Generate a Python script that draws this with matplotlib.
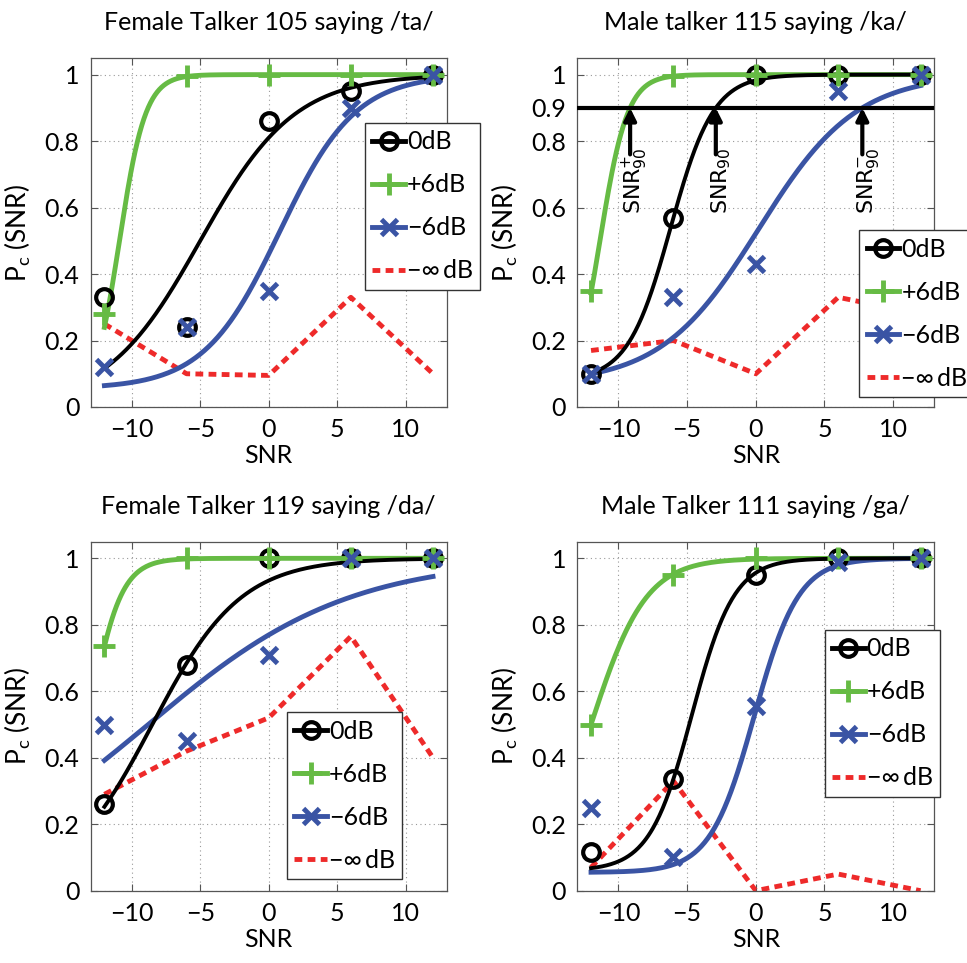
import matplotlib
matplotlib.use('Agg')

import matplotlib.pyplot as plt
import numpy as np
from matplotlib.lines import Line2D
from matplotlib.ticker import FuncFormatter

MAIN_FONT = 'Lato'
plt.rcParams['font.family'] = [MAIN_FONT, 'DejaVu Sans']
plt.rcParams['mathtext.fontset'] = 'custom'
plt.rcParams['mathtext.rm'] = MAIN_FONT
plt.rcParams['mathtext.sf'] = 'DejaVu Sans'
plt.rcParams['mathtext.default'] = 'sf'

# colours
BLACK = '#000000'
GREEN = '#66bb44'
BLUE = '#3a54a4'
RED = '#ee2a2a'

# data: SNR levels and measured Pc for each condition
snr = [-12, -6, 0, 6, 12]

ta_0db = [0.33, 0.24, 0.86, 0.95, 1.0]
ta_p6db = [0.28, 0.995, 1.0, 1.0, 1.0]
ta_m6db = [0.12, 0.24, 0.35, 0.90, 1.0]
ta_minf = [0.25, 0.10, 0.095, 0.33, 0.10]

ka_0db = [0.10, 0.57, 1.0, 1.0, 1.0]
ka_p6db = [0.35, 0.995, 1.0, 1.0, 1.0]
ka_m6db = [0.10, 0.33, 0.43, 0.95, 1.0]
ka_minf = [0.17, 0.20, 0.10, 0.33, 0.28]

da_0db = [0.26, 0.68, 1.0, 1.0, 1.0]
da_p6db = [0.735, 1.0, 1.0, 1.0, 1.0]
da_m6db = [0.50, 0.45, 0.71, 1.0, 1.0]
da_minf = [0.29, 0.42, 0.52, 0.765, 0.40]

ga_0db = [0.115, 0.337, 0.95, 1.0, 1.0]
ga_p6db = [0.50, 0.95, 1.0, 1.0, 1.0]
ga_m6db = [0.25, 0.10, 0.555, 0.99, 1.0]
ga_minf = [0.07, 0.33, 0.0, 0.05, 0.0]

# fitted psychometric curves: (floor, slope, midpoint)
ta_fit = [(0.0, 0.29, -5.0), (0.0, 1.05, -10.9), (0.055, 0.36, 0.8)]
ka_fit = [(0.08, 0.64, -6.2), (0.0, 1.0, -11.35), (0.07, 0.28, 0.2)]
da_fit = [(0.0, 0.31, -8.5), (0.0, 0.87, -13.17), (0.0, 0.137, -8.8)]
ga_fit = [(0.06, 0.65, -4.65), (0.0, 0.5, -12.0), (0.055, 0.62, -0.1)]

threshold = 0.9

titles = ['Female Talker 105 saying /ta/', 'Male talker 115 saying /ka/',
          'Female Talker 119 saying /da/', 'Male Talker 111 saying /ga/']
labels = ['0dB', '+6dB', '\u22126dB', '\u2212\u221e\u2009dB']

FS = 18


def psy(x, lo, k, x0):
    return lo + (1 - lo) / (1 + np.exp(-k * (x - x0)))


def psy_inv(p, lo, k, x0):
    return x0 - np.log((1 - lo) / (p - lo) - 1) / k


def draw_panel(ax, title, d0, dp, dm, dinf, fits, leg_pos, yticks):
    xs = np.linspace(snr[0], snr[-1], 300)
    ax.plot(snr, dinf, color=RED, lw=3.5, linestyle=(0, (1.6, 1.1)), zorder=2)
    ax.plot(xs, psy(xs, *fits[1]), color=GREEN, lw=3.5, zorder=3)
    ax.plot(xs, psy(xs, *fits[2]), color=BLUE, lw=3.5, zorder=3)
    ax.plot(xs, psy(xs, *fits[0]), color=BLACK, lw=2.8, zorder=4)
    ax.plot(snr, d0, 'o', ms=12, mfc='none', mec=BLACK, mew=3, zorder=5)
    ax.plot(snr, dp, '+', ms=16, mec=GREEN, mew=3.5, zorder=5)
    ax.plot(snr, dm, 'x', ms=11, mec=BLUE, mew=3.5, zorder=5)

    ax.set_xlim(-13, 13)
    ax.set_ylim(0, 1.05)
    ax.set_xticks([-10, -5, 0, 5, 10])
    ax.set_yticks(yticks)
    ax.yaxis.set_major_formatter(FuncFormatter(lambda v, _: f'{v:g}'))
    ax.grid(True, color='#999999', lw=0.8, linestyle=(0, (1, 3)))
    ax.tick_params(direction='in', length=5, width=0.8, color='#555555',
                   labelsize=FS, top=True, right=True, pad=8)
    for s in ax.spines.values():
        s.set_color('#555555')
        s.set_linewidth(0.9)
    ax.set_title(title, fontsize=FS, pad=20)
    ax.set_xlabel('SNR', fontsize=FS, labelpad=2)
    ax.set_ylabel(r'P$_{\mathrm{c}}$ (SNR)', fontsize=FS + 1, labelpad=8)

    handles = [
        Line2D([], [], color=BLACK, lw=3.5, marker='o', ms=12, mfc='none', mew=3),
        Line2D([], [], color=GREEN, lw=3.5, marker='+', ms=16, mew=3.5),
        Line2D([], [], color=BLUE, lw=3.5, marker='x', ms=11, mew=3.5),
        Line2D([], [], color=RED, lw=3.5, linestyle=(0, (1.6, 1.1))),
    ]
    leg = ax.legend(handles, labels, loc='upper left', bbox_to_anchor=leg_pos,
                    borderaxespad=0, fontsize=FS, handlelength=1.3,
                    handletextpad=0.08, labelspacing=0.8, borderpad=0.3,
                    fancybox=False, framealpha=1, edgecolor='#333333')
    leg.get_frame().set_linewidth(1.0)
    leg.set_zorder(10)


fig = plt.figure(figsize=(9.67, 9.63), dpi=100)
W, H = 967, 963


def add_ax(left, top, right, bottom):
    return fig.add_axes([left / W, 1 - bottom / H, (right - left) / W, (bottom - top) / H])


ax_ta = add_ax(90.7, 58, 446.7, 407)
ax_ka = add_ax(577.3, 58, 934.3, 407)
ax_da = add_ax(90.7, 541.7, 446.7, 890.7)
ax_ga = add_ax(577.3, 541.7, 934.3, 890.7)

yt = [0, 0.2, 0.4, 0.6, 0.8, 1]
draw_panel(ax_ta, titles[0], ta_0db, ta_p6db, ta_m6db, ta_minf, ta_fit, (0.77, 0.814), yt)
draw_panel(ax_ka, titles[1], ka_0db, ka_p6db, ka_m6db, ka_minf, ka_fit, (0.79, 0.507),
           [0, 0.2, 0.4, 0.6, 0.8, threshold, 1])
draw_panel(ax_da, titles[2], da_0db, da_p6db, da_m6db, da_minf, da_fit, (0.551, 0.512), yt)
draw_panel(ax_ga, titles[3], ga_0db, ga_p6db, ga_m6db, ga_minf, ga_fit, (0.693, 0.747), yt)

# SNR90 threshold line and arrows on the /ka/ panel
ax_ka.axhline(threshold, color=BLACK, lw=3, zorder=6)
arrow_text = [r'SNR$^{+}_{90}$', r'SNR$_{90}$', r'SNR$^{-}_{90}$']
for fit, txt in zip([ka_fit[1], ka_fit[0], ka_fit[2]], arrow_text):
    x90 = psy_inv(threshold, *fit)
    ax_ka.annotate('', xy=(x90, threshold), xytext=(x90, threshold - 0.14),
                   arrowprops=dict(arrowstyle='-|>', lw=3, color=BLACK,
                                   mutation_scale=18, shrinkA=0, shrinkB=0),
                   zorder=7)
    ax_ka.text(x90 + 0.4, threshold - 0.12, txt, rotation=90, ha='center', va='top',
               fontsize=16, family='DejaVu Sans', zorder=7)

fig.savefig('out.png', dpi=100, facecolor='white')
